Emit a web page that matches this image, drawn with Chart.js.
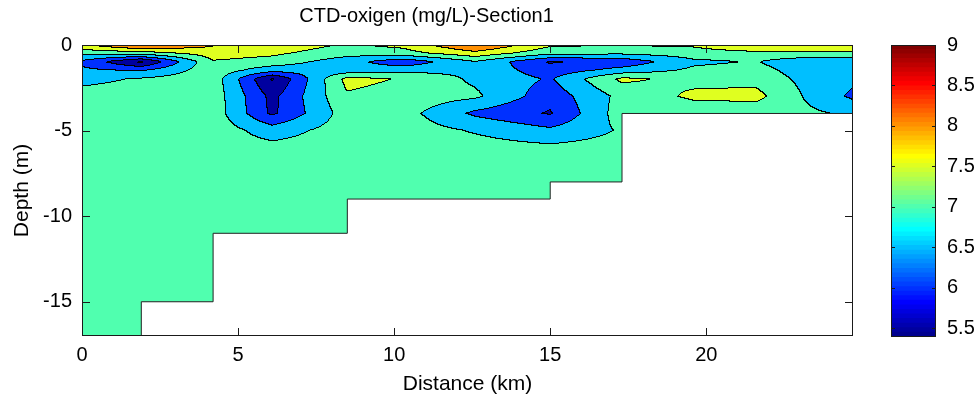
<!DOCTYPE html>
<html>
<head>
<meta charset="utf-8">
<script src="https://cdn.jsdelivr.net/npm/chart.js@4.4.1/dist/chart.umd.min.js"></script>
<style>
html,body{margin:0;padding:0;background:#fff;}
#wrap{position:relative;width:979px;height:405px;}
#wrap canvas{position:absolute;left:0;top:0;}
</style>
</head>
<body>
<div id="wrap">
<canvas id="main" width="979" height="405"></canvas>
<canvas id="cbar" width="979" height="405"></canvas>
</div>
<script>
// ---------------- data ----------------
const titleText = 'CTD-oxigen (mg/L)-Section1';
const xLabel = 'Distance (km)';
const yLabel = 'Depth (m)';

// station positions along the section (km)
const stationKm = [0, 1.9, 4.2, 6.1, 8.5, 10.3, 12.6, 15.0, 17.3, 19.6, 21.6, 23.2, 24.7];
// depth levels (m)
const depthM = [0, -0.5, -1, -1.5, -2, -3, -4, -5, -6, -7];

// oxygen (mg/L) at each station, one array per depth level
const o2_d0   = [7.95, 8.70, 8.05, 7.85, 7.45, 7.65, 8.60, 7.60, 7.55, 7.60, 8.10, 7.85, 7.90];
const o2_d05  = [7.15, 7.25, 7.75, 7.60, 7.20, 7.30, 7.85, 7.15, 7.10, 7.25, 7.35, 7.45, 7.40];
const o2_d1   = [6.40, 5.40, 7.45, 7.30, 6.70, 6.15, 6.97, 5.95, 6.15, 6.90, 7.03, 6.60, 6.60];
const o2_d15  = [6.60, 6.45, 7.30, 6.70, 6.70, 6.85, 6.90, 6.20, 6.70, 7.10, 7.20, 6.75, 6.60];
const o2_d2   = [6.85, 7.05, 7.30, 5.45, 7.65, 7.46, 6.90, 6.45, 7.60, 7.35, 7.35, 6.85, 6.60];
const o2_d3   = [7.20, 7.25, 7.30, 5.85, 7.44, 7.30, 7.10, 6.20, 7.15, 7.60, 7.65, 6.95, 6.40];
const o2_d4   = [7.25, 7.25, 7.30, 5.90, 7.25, 7.20, 6.40, 5.95, 7.25, 7.20, 7.20, 7.10, 6.90];
const o2_d5   = [7.25, 7.25, 7.30, 6.75, 7.25, 7.25, 6.95, 6.60, 7.05, 7.25, 7.25, 7.25, 7.00];
const o2_d6   = [7.25, 7.25, 7.25, 7.15, 7.25, 7.25, 7.20, 7.10, 7.20, 7.25, 7.25, 7.25, 7.25];
const o2_d7   = [7.25, 7.25, 7.25, 7.25, 7.25, 7.25, 7.25, 7.25, 7.25, 7.25, 7.25, 7.25, 7.25];

// sea-floor steps (km, m)
const bottomKm    = [0, 1.9, 4.2, 8.5, 15.0, 17.3, 24.7];
const bottomDepth = [-17, -15, -11, -9, -8, -4, -4];

// contour levels, colour limits and tick labels
const contourLevels = [5.5, 6, 6.5, 7, 7.5, 8, 8.5, 9];
const colorMin = 5.39, colorMax = 9;
const distanceTicks = [0, 5, 10, 15, 20];
const depthTicks = [-15, -10, -5, 0];
const colorbarTicks = [5.5, 6, 6.5, 7, 7.5, 8, 8.5, 9];
const distanceRange = [0, 24.7];
const depthRange = [-17, 0];

// ---------------- helpers ----------------
const o2Rows = [o2_d0, o2_d05, o2_d1, o2_d15, o2_d2, o2_d3, o2_d4, o2_d5, o2_d6, o2_d7];
const FONT = '"Liberation Sans", Arial, Helvetica, sans-serif';

function jetRGB(i) { // MATLAB jet(64), 1-based index
  const n = 16, u = [];
  for (let k = 1; k <= n; k++) u.push(k / n);
  for (let k = 0; k < n - 1; k++) u.push(1);
  for (let k = n; k >= 1; k--) u.push(k / n);
  let r = 0, g = 0, b = 0;
  const gi = i - 8, ri = i - 24, bi = i + 8;
  if (gi >= 1 && gi <= u.length) g = u[gi - 1];
  if (ri >= 1 && ri <= u.length) r = u[ri - 1];
  if (bi >= 1 && bi <= u.length) b = u[bi - 1];
  return [Math.round(r * 255), Math.round(g * 255), Math.round(b * 255)];
}
function colorIndex(v) {
  let k = Math.floor((v - colorMin) / (colorMax - colorMin) * 64) + 1;
  return Math.max(1, Math.min(64, k));
}
const bandColors = [jetRGB(colorIndex(colorMin))].concat(contourLevels.map(l => jetRGB(colorIndex(l))));

function locate(arr, v, desc) {
  const n = arr.length;
  if (!desc) {
    if (v <= arr[0]) return [0, 0];
    if (v >= arr[n - 1]) return [n - 2, 1];
    for (let k = 0; k < n - 1; k++) if (v <= arr[k + 1]) return [k, (v - arr[k]) / (arr[k + 1] - arr[k])];
  } else {
    if (v >= arr[0]) return [0, 0];
    if (v <= arr[n - 1]) return [n - 2, 1];
    for (let k = 0; k < n - 1; k++) if (v >= arr[k + 1]) return [k, (arr[k] - v) / (arr[k] - arr[k + 1])];
  }
  return [n - 2, 1];
}

const fieldPlugin = {
  id: 'o2field',
  beforeDatasetsDraw(chart) {
    const {ctx, chartArea: a, scales: {x, y}} = chart;
    const L = Math.round(a.left), T = Math.round(a.top);
    const w = Math.round(a.right) - L, h = Math.round(a.bottom) - T;
    const cols = [], rows = [];
    for (let i = 0; i < w; i++) cols.push(locate(stationKm, x.getValueForPixel(L + i + 0.5), false));
    for (let j = 0; j < h; j++) rows.push(locate(depthM, y.getValueForPixel(T + j + 0.5), true));
    const band = new Uint8Array(w * h);
    for (let j = 0; j < h; j++) {
      const [iy, ty] = rows[j];
      const r0 = o2Rows[iy], r1 = o2Rows[iy + 1];
      for (let i = 0; i < w; i++) {
        const [ix, tx] = cols[i];
        const a0 = r0[ix] + (r0[ix + 1] - r0[ix]) * tx;
        const a1 = r1[ix] + (r1[ix + 1] - r1[ix]) * tx;
        const v = a0 + (a1 - a0) * ty;
        let b = 0;
        while (b < contourLevels.length && v >= contourLevels[b]) b++;
        band[j * w + i] = b;
      }
    }
    const img = ctx.createImageData(w, h);
    const d = img.data;
    for (let j = 0; j < h; j++) {
      for (let i = 0; i < w; i++) {
        const k = j * w + i, b = band[k];
        let edge = (i < w - 1 && band[k + 1] !== b) || (j < h - 1 && band[k + w] !== b);
        const c = edge ? [0, 0, 0] : bandColors[b];
        d[k * 4] = c[0]; d[k * 4 + 1] = c[1]; d[k * 4 + 2] = c[2]; d[k * 4 + 3] = 255;
      }
    }
    ctx.putImageData(img, L, T);
  },
  afterDatasetsDraw(chart) {
    const {ctx, chartArea: a, scales: {x, y}} = chart;
    const L = Math.round(a.left), T = Math.round(a.top), R = Math.round(a.right), B = Math.round(a.bottom);
    ctx.save();
    ctx.strokeStyle = '#1a1a1a';
    ctx.lineWidth = 1;
    ctx.strokeRect(L + 0.5, T + 0.5, R - L - 1, B - T - 1);
    ctx.beginPath();
    const tl = 8;
    distanceTicks.forEach(v => {
      const px = Math.round(x.getPixelForValue(v)) + 0.5;
      ctx.moveTo(px, B); ctx.lineTo(px, B - tl);
      ctx.moveTo(px, T); ctx.lineTo(px, T + tl);
    });
    depthTicks.forEach(v => {
      const py = Math.round(y.getPixelForValue(v)) + 0.5;
      ctx.moveTo(L, py); ctx.lineTo(L + tl, py);
      ctx.moveTo(R, py); ctx.lineTo(R - tl, py);
    });
    ctx.stroke();
    ctx.restore();
  }
};

Chart.defaults.font.family = FONT;
Chart.defaults.color = '#000';

new Chart(document.getElementById('main'), {
  type: 'line',
  data: {
    datasets: [{
      label: 'sea floor',
      data: bottomKm.map((k, i) => ({x: k, y: bottomDepth[i]})),
      stepped: true,
      fill: 'start',
      backgroundColor: '#ffffff',
      borderColor: '#222222',
      borderWidth: 1,
      pointRadius: 0
    }]
  },
  options: {
    responsive: false,
    animation: false,
    devicePixelRatio: 1,
    layout: {padding: {left: 0, right: 126, top: 0, bottom: 0}},
    plugins: {
      legend: {display: false},
      tooltip: {enabled: false},
      title: {
        display: true, text: titleText, color: '#000',
        font: {size: 20, weight: 'normal', family: FONT},
        padding: {top: 4, bottom: 17}
      }
    },
    scales: {
      x: {
        type: 'linear', min: distanceRange[0], max: distanceRange[1],
        afterBuildTicks: s => { s.ticks = distanceTicks.map(v => ({value: v})); },
        afterFit: s => { s.height = 69; },
        grid: {display: false}, border: {display: false},
        ticks: {font: {size: 20, family: FONT}, color: '#000', padding: -1, maxRotation: 0},
        title: {display: true, text: xLabel, color: '#000', font: {size: 21, family: FONT}, padding: {top: 0, bottom: 8}}
      },
      y: {
        type: 'linear', min: depthRange[0], max: depthRange[1],
        afterBuildTicks: s => { s.ticks = depthTicks.map(v => ({value: v})); },
        afterFit: s => { s.width = 82; },
        grid: {display: false}, border: {display: false},
        ticks: {font: {size: 20, family: FONT}, color: '#000', padding: 2},
        title: {display: true, text: yLabel, color: '#000', font: {size: 21, family: FONT}, padding: {top: 10, bottom: 0}}
      }
    }
  },
  plugins: [fieldPlugin]
});

// ---------------- colour bar ----------------
const cbarDatasets = [];
for (let k = 0; k < 64; k++) {
  const lo = colorMin + k * (colorMax - colorMin) / 64;
  const hi = colorMin + (k + 1) * (colorMax - colorMin) / 64;
  const c = jetRGB(k + 1);
  cbarDatasets.push({
    data: [[lo, Math.min(colorMax, hi + 0.004)]],
    backgroundColor: `rgb(${c[0]},${c[1]},${c[2]})`,
    borderWidth: 0, grouped: false, barPercentage: 1, categoryPercentage: 1
  });
}
const cbarFrame = {
  id: 'cbarFrame',
  afterDatasetsDraw(chart) {
    const {ctx, chartArea: a, scales: {y}} = chart;
    const L = Math.round(a.left), T = Math.round(a.top), R = Math.round(a.right), B = Math.round(a.bottom);
    ctx.save();
    ctx.strokeStyle = '#1a1a1a';
    ctx.lineWidth = 1;
    ctx.strokeRect(L + 0.5, T + 0.5, R - L - 1, B - T - 1);
    ctx.beginPath();
    colorbarTicks.forEach(v => {
      const py = Math.round(y.getPixelForValue(v)) + 0.5;
      ctx.moveTo(L, py); ctx.lineTo(L + 4, py);
      ctx.moveTo(R, py); ctx.lineTo(R - 4, py);
    });
    ctx.stroke();
    ctx.restore();
  }
};
new Chart(document.getElementById('cbar'), {
  type: 'bar',
  data: {labels: [''], datasets: cbarDatasets},
  options: {
    responsive: false,
    animation: false,
    devicePixelRatio: 1,
    layout: {padding: {left: 891, right: 0, top: 45, bottom: 68}},
    plugins: {legend: {display: false}, tooltip: {enabled: false}, title: {display: false}},
    scales: {
      x: {display: false},
      y: {
        type: 'linear', position: 'right', min: colorMin, max: colorMax,
        afterBuildTicks: s => { s.ticks = colorbarTicks.map(v => ({value: v})); },
        afterFit: s => { s.width = 43; },
        grid: {display: false}, border: {display: false},
        ticks: {font: {size: 20, family: FONT}, color: '#000', padding: 3, callback: v => String(v)}
      }
    }
  },
  plugins: [cbarFrame]
});
</script>
</body>
</html>
